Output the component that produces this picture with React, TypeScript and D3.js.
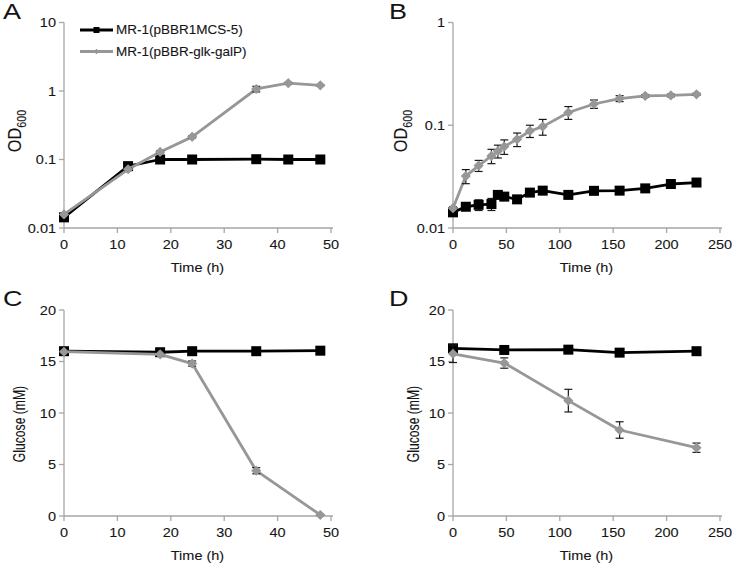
import React from "react";
import * as d3 from "d3";

// ---------- DATA ----------
const seriesNames = ["MR-1(pBBR1MCS-5)", "MR-1(pBBR-glk-galP)"];

const timeA = [0, 12, 18, 24, 36, 42, 48];
const odA_ctrl = [0.0143, 0.08, 0.1, 0.1, 0.101, 0.1, 0.1];
const odA_ctrl_err = [0.0005, 0.002, 0.002, 0.002, 0.002, 0.002, 0.002];
const odA_glk = [0.0158, 0.072, 0.129, 0.214, 1.07, 1.3, 1.21];
const odA_glk_err = [0.0005, 0.003, 0.005, 0.008, 0.1, 0.04, 0.03];

const timeB = [0, 12, 24, 36, 42, 48, 60, 72, 84, 108, 132, 156, 180, 204, 228];
const odB_ctrl = [0.0142, 0.0161, 0.0168, 0.0171, 0.021, 0.0202, 0.019, 0.0221, 0.0231, 0.021, 0.023, 0.0231, 0.0243, 0.0268, 0.0277];
const odB_ctrl_err = [0.0005, 0.001, 0.002, 0.0023, 0.001, 0.001, 0.001, 0.001, 0.001, 0.0005, 0.0015, 0.001, 0.0008, 0.0008, 0.001];
const odB_glk = [0.0156, 0.032, 0.0405, 0.0503, 0.056, 0.062, 0.073, 0.088, 0.097, 0.133, 0.161, 0.182, 0.193, 0.195, 0.2];
const odB_glk_err = [0.0005, 0.005, 0.005, 0.008, 0.008, 0.01, 0.011, 0.012, 0.017, 0.019, 0.015, 0.012, 0.006, 0.006, 0.005];

const timeC = [0, 18, 24, 36, 48];
const glcC_ctrl = [16.0, 15.9, 16.0, 16.0, 16.05];
const glcC_ctrl_err = [0.1, 0.1, 0.1, 0.1, 0.1];
const glcC_glk = [15.95, 15.7, 14.8, 4.4, 0.1];
const glcC_glk_err = [0.1, 0.1, 0.25, 0.3, 0.05];

const timeD = [0, 48, 108, 156, 228];
const glcD_ctrl = [16.28, 16.12, 16.15, 15.86, 16.0];
const glcD_ctrl_err = [0.1, 0.1, 0.1, 0.1, 0.1];
const glcD_glk = [15.75, 14.85, 11.2, 8.35, 6.63];
const glcD_glk_err = [0.85, 0.5, 1.1, 0.8, 0.45];

const xTicksShort = [0, 10, 20, 30, 40, 50];
const xTicksLong = [0, 50, 100, 150, 200, 250];
const yTicksA = [0.01, 0.1, 1, 10];
const yTicksB = [0.01, 0.1, 1];
const yTicksGlc = [0, 5, 10, 15, 20];

// ---------- STYLE ----------
const FONT = "'Liberation Sans', Arial, sans-serif";
const AXIS = "#a6a6a6";
const BLACK = "#000000";
const GRAY = "#979797";
const ERR = "#1a1a1a";
const TXT = "#141414";
const SQ = 0.9; // vertical squish of horizontal text in the reference

function T(props: {
  x: number;
  y: number;
  size: number;
  anchor?: "start" | "middle" | "end";
  rotate?: number;
  squish?: number;
  children: React.ReactNode;
}) {
  const r = props.rotate ? ` rotate(${props.rotate})` : "";
  const sq = props.squish ?? SQ;
  return (
    <text
      transform={`translate(${props.x},${props.y}) scale(1,${sq})${r}`}
      dy="0.35em"
      textAnchor={props.anchor || "start"}
      fontSize={props.size}
      fontFamily={FONT}
      fill={TXT}
      stroke={TXT}
      strokeWidth={0.1}
    >
      {props.children}
    </text>
  );
}

type Series = { t: number[]; v: number[]; e: number[] };

function Panel(props: {
  letter: string;
  letterX: number;
  x0: number;
  x1: number;
  yTop: number;
  yBot: number;
  xDomain: [number, number];
  xTicks: number[];
  log: boolean;
  yDomain: [number, number];
  yTicks: number[];
  yLabel: "OD" | "Glucose";
  yLabelX: number;
  yLabelY: number;
  ctrl: Series;
  glk: Series;
  legend?: boolean;
}) {
  const p = props;
  const x = d3.scaleLinear().domain(p.xDomain).range([p.x0, p.x1]);
  const y = p.log
    ? d3.scaleLog().domain(p.yDomain).range([p.yBot, p.yTop])
    : d3.scaleLinear().domain(p.yDomain).range([p.yBot, p.yTop]);
  const line = d3
    .line<[number, number]>()
    .x((d) => x(d[0]))
    .y((d) => y(d[1]));
  const pts = (s: Series) => s.t.map((t, i) => [t, s.v[i]] as [number, number]);
  const diamond = d3.symbol().type(d3.symbolDiamond2).size(66)() as string;
  const diamondSmall = d3.symbol().type(d3.symbolDiamond2).size(20)() as string;

  const errBars = (s: Series) =>
    s.t.map((t, i) => {
      const lo = Math.max(s.v[i] - s.e[i], p.log ? 1e-6 : -1e9);
      const hi = s.v[i] + s.e[i];
      const cx = x(t);
      return (
        <g key={"e" + i} stroke={ERR} strokeWidth={1.2}>
          <line x1={cx} x2={cx} y1={y(lo)} y2={y(hi)} />
          <line x1={cx - 4} x2={cx + 4} y1={y(lo)} y2={y(lo)} />
          <line x1={cx - 4} x2={cx + 4} y1={y(hi)} y2={y(hi)} />
        </g>
      );
    });

  return (
    <g>
      <text
        transform={`translate(${p.letterX},${p.yTop - 4}) scale(1,0.8)`}
        fontSize={27}
        fontFamily={FONT}
        fill={TXT}
      >
        {p.letter}
      </text>
      {/* axes */}
      <line x1={p.x0} x2={p.x1 + 2} y1={p.yBot} y2={p.yBot} stroke={AXIS} strokeWidth={1.3} />
      <line x1={p.x0} x2={p.x0} y1={p.yTop} y2={p.yBot} stroke={AXIS} strokeWidth={1.3} />
      {p.xTicks.map((t) => (
        <g key={"xt" + t}>
          <line x1={x(t)} x2={x(t)} y1={p.yBot} y2={p.yBot + 5} stroke={AXIS} strokeWidth={1.3} />
          <T x={x(t)} y={p.yBot + 16} size={14.5} anchor="middle">
            {t}
          </T>
        </g>
      ))}
      {p.yTicks.map((t) => (
        <g key={"yt" + t}>
          <line x1={p.x0 - 5} x2={p.x0} y1={y(t)} y2={y(t)} stroke={AXIS} strokeWidth={1.3} />
          <T x={p.x0 - 8} y={y(t)} size={14.5} anchor="end">
            {String(t)}
          </T>
        </g>
      ))}
      <T x={(p.x0 + p.x1) / 2} y={p.yBot + 39} size={14.5} anchor="middle">
        Time (h)
      </T>
      {p.yLabel === "OD" ? (
        <T x={p.yLabelX} y={p.yLabelY} size={18} anchor="middle" rotate={-90} squish={0.9}>
          OD
          <tspan fontSize={12} dy={5}>
            600
          </tspan>
        </T>
      ) : (
        <T x={p.yLabelX} y={p.yLabelY} size={16} anchor="middle" rotate={-90} squish={0.76}>
          Glucose (mM)
        </T>
      )}
      {/* control series */}
      <path d={line(pts(p.ctrl)) || ""} fill="none" stroke={BLACK} strokeWidth={2.8} strokeLinejoin="round" />
      {errBars(p.ctrl)}
      {p.ctrl.t.map((t, i) => (
        <rect key={"s" + i} x={x(t) - 5} y={y(p.ctrl.v[i]) - 5} width={10} height={10} fill={BLACK} />
      ))}
      {/* glk series */}
      <path d={line(pts(p.glk)) || ""} fill="none" stroke={GRAY} strokeWidth={2.8} strokeLinejoin="round" />
      {errBars(p.glk)}
      {p.glk.t.map((t, i) => (
        <path key={"d" + i} d={diamond} transform={`translate(${x(t)},${y(p.glk.v[i])})`} fill={GRAY} />
      ))}
      {p.legend && (
        <g>
          <line x1={80} x2={113} y1={30} y2={30} stroke={BLACK} strokeWidth={2.8} />
          <rect x={96.5 - 3} y={27} width={6} height={6} fill={BLACK} />
          <T x={116} y={30} size={13.5}>
            {seriesNames[0]}
          </T>
          <line x1={80} x2={113} y1={51.5} y2={51.5} stroke={GRAY} strokeWidth={2.8} />
          <path d={diamondSmall} transform={`translate(96.5,51.5)`} fill={GRAY} />
          <T x={116} y={51.5} size={13.5}>
            {seriesNames[1]}
          </T>
        </g>
      )}
    </g>
  );
}

export default function App() {
  return (
    <svg
      width={733}
      height={566}
      style={{ position: "absolute", left: 0, top: 0, background: "#fff" }}
      xmlns="http://www.w3.org/2000/svg"
    >
      <rect width={733} height={566} fill="#fff" />
      <Panel
        letter="A"
        letterX={3}
        x0={64}
        x1={331}
        yTop={22.5}
        yBot={228}
        xDomain={[0, 50]}
        xTicks={xTicksShort}
        log={true}
        yDomain={[0.01, 10]}
        yTicks={yTicksA}
        yLabel="OD"
        yLabelX={15}
        yLabelY={131}
        ctrl={{ t: timeA, v: odA_ctrl, e: odA_ctrl_err }}
        glk={{ t: timeA, v: odA_glk, e: odA_glk_err }}
        legend={true}
      />
      <Panel
        letter="B"
        letterX={389}
        x0={453}
        x1={720}
        yTop={22.5}
        yBot={228}
        xDomain={[0, 250]}
        xTicks={xTicksLong}
        log={true}
        yDomain={[0.01, 1]}
        yTicks={yTicksB}
        yLabel="OD"
        yLabelX={401}
        yLabelY={131}
        ctrl={{ t: timeB, v: odB_ctrl, e: odB_ctrl_err }}
        glk={{ t: timeB, v: odB_glk, e: odB_glk_err }}
      />
      <Panel
        letter="C"
        letterX={3}
        x0={64}
        x1={331}
        yTop={310}
        yBot={516}
        xDomain={[0, 50]}
        xTicks={xTicksShort}
        log={false}
        yDomain={[0, 20]}
        yTicks={yTicksGlc}
        yLabel="Glucose"
        yLabelX={19}
        yLabelY={424}
        ctrl={{ t: timeC, v: glcC_ctrl, e: glcC_ctrl_err }}
        glk={{ t: timeC, v: glcC_glk, e: glcC_glk_err }}
      />
      <Panel
        letter="D"
        letterX={389}
        x0={453}
        x1={720}
        yTop={310}
        yBot={516}
        xDomain={[0, 250]}
        xTicks={xTicksLong}
        log={false}
        yDomain={[0, 20]}
        yTicks={yTicksGlc}
        yLabel="Glucose"
        yLabelX={413}
        yLabelY={424}
        ctrl={{ t: timeD, v: glcD_ctrl, e: glcD_ctrl_err }}
        glk={{ t: timeD, v: glcD_glk, e: glcD_glk_err }}
      />
    </svg>
  );
}
